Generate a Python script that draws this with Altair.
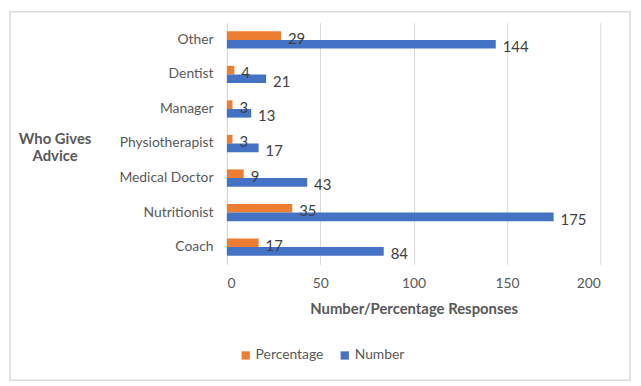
import altair as alt
import pandas as pd

categories = ["Other", "Dentist", "Manager", "Physiotherapist", "Medical Doctor", "Nutritionist", "Coach"]
percentage = [29, 4, 3, 3, 9, 35, 17]
number = [144, 21, 13, 17, 43, 175, 84]
series = ["Percentage", "Number"]
colors = ["#ED7D31", "#4472C4"]
x_ticks = [0, 50, 100, 150, 200]

rows = []
for c, p, n in zip(categories, percentage, number):
    rows.append({"Who": c, "Series": "Percentage", "Value": p})
    rows.append({"Who": c, "Series": "Number", "Value": n})
df = pd.DataFrame(rows)

FONT = "Lato"
GRAY = "#595959"

y_enc = alt.Y("Who:N", sort=categories,
              scale=alt.Scale(paddingInner=0.5, paddingOuter=0.25),
              axis=alt.Axis(title=["Who Gives", "Advice"], titleAngle=0, titleAlign="center",
                            titleBaseline="middle", titleX=-174, titleY=117,
                            titleFont=FONT, titleFontSize=15, titleFontWeight="bold", titleColor=GRAY,
                            labelFont=FONT, labelFontSize=14, labelColor=GRAY, labelPadding=14,
                            ticks=False, domain=True, domainColor="#d9d9d9"))
x_enc = alt.X("Value:Q", scale=alt.Scale(domain=[0, 200], nice=False),
              axis=alt.Axis(values=x_ticks, title="Number/Percentage Responses",
                            titleFont=FONT, titleFontSize=15, titleFontWeight="bold", titleColor=GRAY,
                            titlePadding=12,
                            labelFont=FONT, labelFontSize=14, labelColor=GRAY, labelPadding=12,
                            ticks=False, domain=False, grid=True, gridColor="#d9d9d9"))
yoff = alt.YOffset("Series:N", sort=series)

bars = alt.Chart(df).mark_bar().encode(
    y=y_enc, x=x_enc, yOffset=yoff,
    color=alt.Color("Series:N", sort=series,
                    scale=alt.Scale(domain=series, range=colors),
                    legend=alt.Legend(title=None, orient="none", direction="horizontal",
                                      legendX=12, legendY=329, symbolType="square",
                                      symbolSize=70, labelFont=FONT, labelFontSize=14,
                                      labelColor=GRAY, columnPadding=14, labelOffset=3)),
)

labels = alt.Chart(df).mark_text(align="left", baseline="middle", dx=7, dy=3,
                                 font=FONT, fontSize=15, color="#404040").encode(
    y=alt.Y("Who:N", sort=categories), x="Value:Q", yOffset=yoff, text="Value:Q"
)

frame = alt.Chart(pd.DataFrame({"a": [0]})).mark_rect(fill=None, stroke="#d9d9d9", strokeWidth=1.5).encode(
    x=alt.value(-219), x2=alt.value(407), y=alt.value(-11), y2=alt.value(361)
)

chart = alt.layer(bars, labels, frame).properties(
    width=377, height=244,
    autosize=alt.AutoSizeParams(type="none"),
    padding={"left": 221, "top": 13, "right": 33, "bottom": 120},
    background="white",
).configure_view(stroke=None)

chart.save("out.html", embed_options={"renderer": "svg", "actions": False})
